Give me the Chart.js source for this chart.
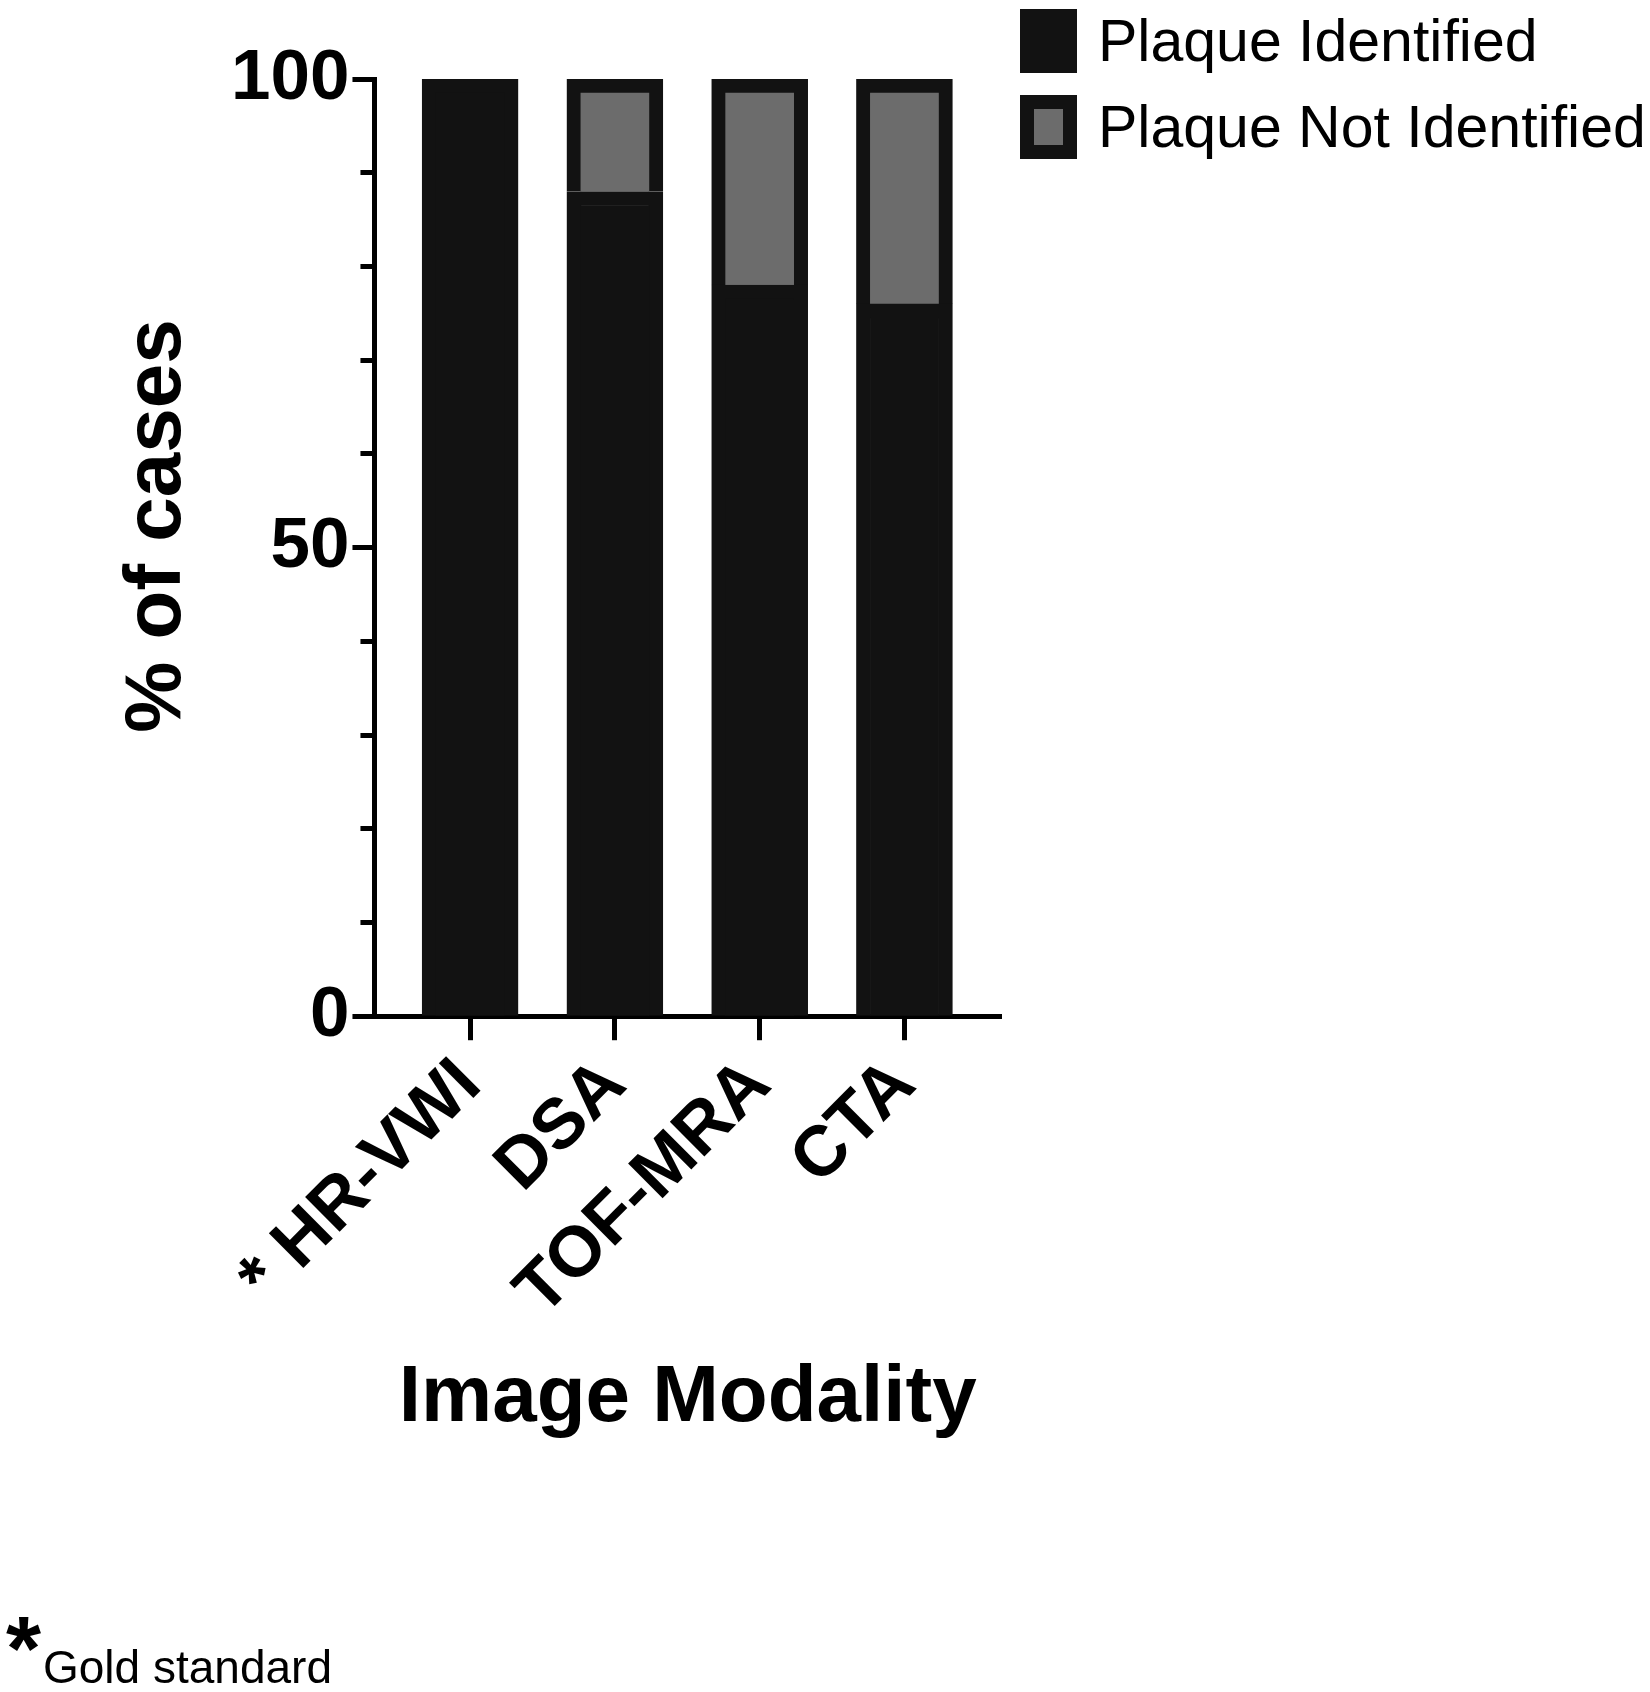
<!DOCTYPE html>
<html><head><meta charset="utf-8">
<script src="https://cdn.jsdelivr.net/npm/chart.js@4/dist/chart.umd.min.js"></script>
<style>html,body{margin:0;padding:0;background:#fff;}</style>
</head><body>
<canvas id="c" width="1650" height="1692"></canvas>
<script>
const categories = ['* HR-VWI', 'DSA', 'TOF-MRA', 'CTA'];
const identified = [100, 88, 78, 76];
const notIdentified = [0, 12, 22, 24];
const seriesNames = ['Plaque Identified', 'Plaque Not Identified'];
const yTickLabels = [0, 50, 100];
const xTitle = 'Image Modality';
const yTitle = '% of cases';
const footStar = '*';
const footText = 'Gold standard';

const FONT = '"Liberation Sans", Arial, sans-serif';
const DARK = '#121212';
const GRAY = '#6c6c6c';

const toPoints = arr => arr.map((v, i) => ({x: i, y: v}));

const legendPlugin = {
  id: 'customLegend',
  afterDraw(chart) {
    const ctx = chart.ctx;
    chart.data.datasets.forEach((ds, i) => {
      const x = 1027, y = 16 + i * 86, w = 43, h = 50;
      ctx.save();
      ctx.fillStyle = ds.backgroundColor;
      ctx.fillRect(x, y, w, h);
      ctx.lineWidth = ds.borderWidth;
      ctx.strokeStyle = ds.borderColor;
      ctx.strokeRect(x, y, w, h);
      ctx.fillStyle = '#000';
      ctx.font = '59px ' + FONT;
      ctx.textBaseline = 'alphabetic';
      ctx.fillText(ds.label, 1098, y + 45);
      ctx.restore();
    });
  }
};

const yTitlePlugin = {
  id: 'yTitle',
  afterDraw(chart) {
    const ctx = chart.ctx;
    ctx.save();
    ctx.translate(180, 526);
    ctx.rotate(-Math.PI / 2);
    ctx.fillStyle = '#000';
    ctx.font = 'bold 80px ' + FONT;
    ctx.textAlign = 'center';
    ctx.textBaseline = 'alphabetic';
    ctx.fillText(yTitle, 0, 0);
    ctx.restore();
  }
};

const footPlugin = {
  id: 'footnote',
  afterDraw(chart) {
    const ctx = chart.ctx;
    ctx.save();
    ctx.fillStyle = '#000';
    ctx.textBaseline = 'alphabetic';
    ctx.font = 'bold 90px ' + FONT;
    ctx.fillText(footStar, 6, 1680);
    ctx.font = '46px ' + FONT;
    ctx.fillText(footText, 43, 1683);
    ctx.restore();
  }
};

new Chart(document.getElementById('c'), {
  type: 'bar',
  data: {
    datasets: [
      {label: seriesNames[0], data: toPoints(identified), backgroundColor: DARK, borderColor: DARK,
       borderWidth: 14, borderSkipped: 'start', barThickness: 96},
      {label: seriesNames[1], data: toPoints(notIdentified), backgroundColor: GRAY, borderColor: DARK,
       borderWidth: 14, borderSkipped: 'start', barThickness: 96}
    ]
  },
  options: {
    responsive: false,
    animation: false,
    devicePixelRatio: 1,
    layout: {padding: {left: 228, top: 79, right: 649, bottom: 245}},
    plugins: {legend: {display: false}, tooltip: {enabled: false}},
    scales: {
      x: {
        type: 'linear', min: -0.6606, max: 3.667, stacked: true, offset: false,
        afterBuildTicks: s => { s.ticks = categories.map((_, i) => ({value: i})); },
        grid: {offset: false, drawOnChartArea: false, drawTicks: true, tickLength: 24, tickWidth: 5, tickColor: '#000'},
        border: {display: true, width: 5, color: '#000'},
        ticks: {autoSkip: false, minRotation: 45, maxRotation: 45, padding: 3, color: '#000',
                font: {family: FONT, size: 71, weight: 'bold'},
                callback: v => categories[v] !== undefined ? categories[v] : ''},
        title: {display: true, text: xTitle, color: '#000', font: {family: FONT, size: 80, weight: 'bold'},
                padding: {top: 14, bottom: 0}}
      },
      y: {
        min: 0, max: 100, stacked: true,
        grid: {drawOnChartArea: false, drawTicks: true, tickLength: 22, tickWidth: 5, tickColor: '#000',
               tickBorderDash: c => (c.tick && yTickLabels.includes(c.tick.value)) ? [] : [0, 8, 200, 0]},
        border: {display: true, width: 5, color: '#000'},
        ticks: {stepSize: 10, autoSkip: false, padding: 3, color: '#000',
                font: {family: FONT, size: 71, weight: 'bold'},
                callback: v => yTickLabels.includes(v) ? String(v) : ''},
        title: {display: false}
      }
    }
  },
  plugins: [legendPlugin, yTitlePlugin, footPlugin]
});
</script>
</body></html>
